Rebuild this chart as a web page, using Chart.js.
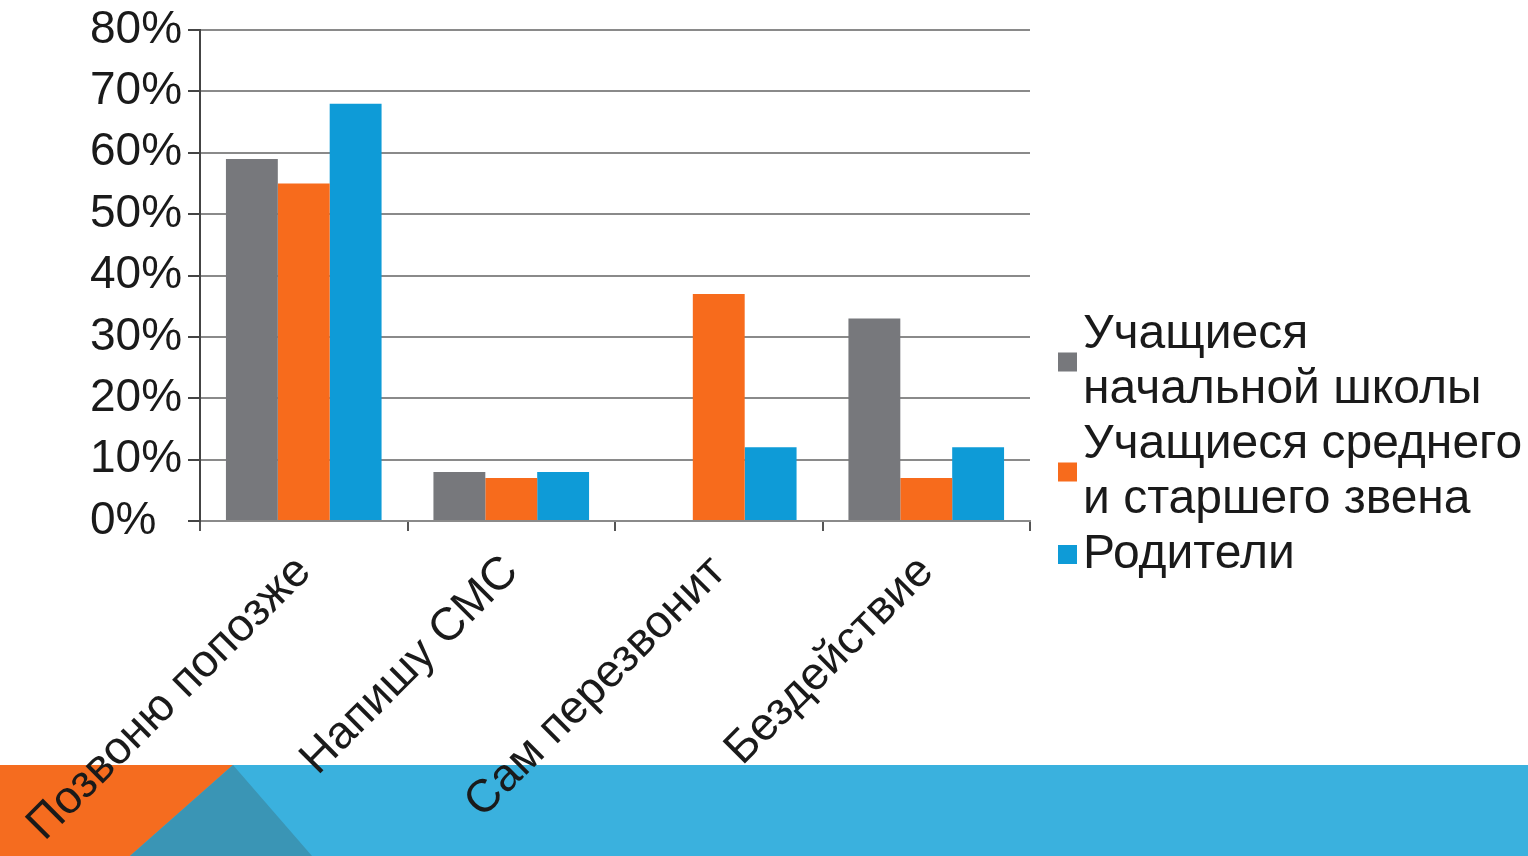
<!DOCTYPE html>
<html>
<head>
<meta charset="utf-8">
<script src="https://cdn.jsdelivr.net/npm/chart.js@4"></script>
<style>
html, body { margin: 0; padding: 0; background: #fff; overflow: hidden; }
#wrap { position: relative; width: 1528px; height: 856px; }
</style>
</head>
<body>
<div id="wrap"><canvas id="myChart" width="1528" height="856"></canvas></div>
<script>
const categories = ['Позвоню попозже', 'Напишу СМС', 'Сам перезвонит', 'Бездействие'];
const seriesNames = ['Учащиеся начальной школы', 'Учащиеся среднего и старшего звена', 'Родители'];
const legendLines = [['Учащиеся', 'начальной школы'], ['Учащиеся среднего', 'и старшего звена'], ['Родители']];
const primaryValues = [59, 8, 0, 33];
const middleValues = [55, 7, 37, 7];
const parentValues = [68, 8, 12, 12];
const seriesColors = ['#77787c', '#f76b1c', '#0e9bd7'];
const yMin = 0, yMax = 80, yStep = 10;

const fontFamily = '"Liberation Sans", Arial, sans-serif';

// slide decoration behind the chart
const slideBand = {
    id: 'slideBand',
    beforeDraw(chart) {
        const ctx = chart.ctx;
        const w = chart.width, h = chart.height, top = 765;
        ctx.save();
        ctx.fillStyle = '#fff';
        ctx.fillRect(0, 0, w, h);
        ctx.fillStyle = '#3ab1de';
        ctx.fillRect(0, top, w, h - top);
        ctx.fillStyle = '#f56c1f';
        ctx.beginPath();
        ctx.moveTo(0, top); ctx.lineTo(233, top); ctx.lineTo(130, h); ctx.lineTo(0, h);
        ctx.closePath(); ctx.fill();
        ctx.fillStyle = '#3a95b5';
        ctx.beginPath();
        ctx.moveTo(233, top); ctx.lineTo(312, h); ctx.lineTo(130, h);
        ctx.closePath(); ctx.fill();
        ctx.restore();
    }
};

// legend on the right with wrapped labels
const sideLegend = {
    id: 'sideLegend',
    afterDraw(chart) {
        const ctx = chart.ctx;
        const lineH = 55;
        const boxX = chart.chartArea.right + 28;
        const textX = boxX + 25;
        let y = 348;
        ctx.save();
        ctx.font = '48px ' + fontFamily;
        ctx.textBaseline = 'alphabetic';
        chart.data.datasets.forEach((ds, i) => {
            const lines = legendLines[i];
            ctx.fillStyle = '#1a1a1a';
            lines.forEach((t, j) => ctx.fillText(t, textX, y + j * lineH));
            const mid = y + (lines.length - 1) * lineH / 2 - 14;
            ctx.fillStyle = ds.backgroundColor;
            ctx.fillRect(boxX, mid - 9, 19, 19);
            y += lines.length * lineH;
        });
        ctx.restore();
    }
};

document.addEventListener('DOMContentLoaded', function() {
    const ctx = document.getElementById('myChart').getContext('2d');
    new Chart(ctx, {
        type: 'bar',
        data: {
            labels: categories,
            datasets: [
                { label: seriesNames[0], data: primaryValues, backgroundColor: seriesColors[0] },
                { label: seriesNames[1], data: middleValues, backgroundColor: seriesColors[1] },
                { label: seriesNames[2], data: parentValues, backgroundColor: seriesColors[2] }
            ]
        },
        options: {
            responsive: false,
            animation: false,
            categoryPercentage: 0.75,
            barPercentage: 1,
            layout: { padding: { left: 90, top: 30, right: 498, bottom: 0 } },
            plugins: {
                legend: { display: false },
                tooltip: { enabled: false }
            },
            scales: {
                x: {
                    grid: { drawOnChartArea: false, offset: true, tickLength: 10, color: '#555', lineWidth: 2 },
                    border: { color: '#8a8a8a', width: 2 },
                    ticks: {
                        minRotation: 45, maxRotation: 45, autoSkip: false, padding: 14,
                        color: '#1a1a1a', font: { family: fontFamily, size: 46 }
                    },
                    afterFit(scale) {
                        // rotated labels may run off the left edge, as in the original
                        scale.height = 335;
                        scale.paddingLeft = 0;
                        scale.paddingRight = 0;
                    }
                },
                y: {
                    min: yMin, max: yMax,
                    grid: { color: '#8a8a8a', lineWidth: 2, tickLength: 12, tickColor: '#444' },
                    border: { color: '#444', width: 2 },
                    ticks: {
                        stepSize: yStep, crossAlign: 'far', padding: 4,
                        color: '#1a1a1a', font: { family: fontFamily, size: 46 },
                        callback: v => v + '%'
                    },
                    afterFit(scale) {
                        scale.width = 110;
                        scale.paddingTop = 0;
                        scale.paddingBottom = 0;
                    }
                }
            }
        },
        plugins: [slideBand, sideLegend]
    });
});
</script>
</body>
</html>
